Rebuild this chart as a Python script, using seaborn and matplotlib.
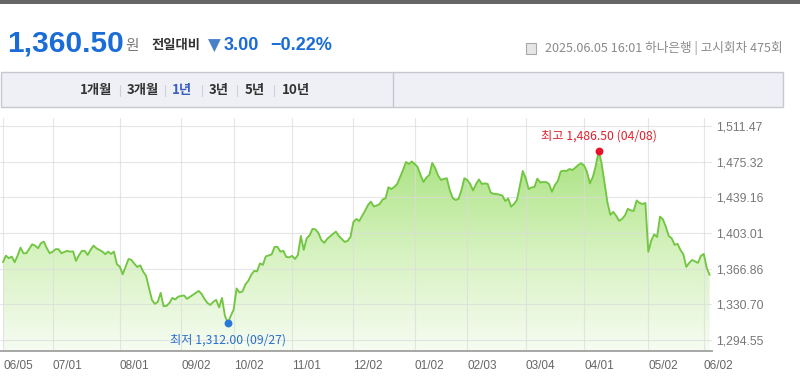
import numpy as np
import pandas as pd
import matplotlib
matplotlib.use("Agg")
import matplotlib.pyplot as plt
import seaborn as sns
from matplotlib.patches import Rectangle
from matplotlib.colors import LinearSegmentedColormap

# ---------------- data ----------------
start_date = "2024-06-05"
end_date = "2025-06-05"
holidays = ["2024-06-06", "2024-08-15", "2024-09-16", "2024-09-17", "2024-09-18",
            "2024-10-01", "2024-10-03", "2024-10-09", "2024-12-25", "2025-01-01",
            "2025-01-27", "2025-01-28", "2025-01-29", "2025-01-30", "2025-03-03",
            "2025-05-01", "2025-05-05", "2025-05-06", "2025-06-03"]

rates = [
    1373.4, 1380.1, 1377.5, 1379.1, 1373.4, 1380.1, 1388.2, 1382.5, 1382.5, 1387.0,
    1391.6, 1390.2, 1387.6, 1392.7, 1394.3, 1387.6, 1382.5, 1384.0, 1386.6, 1386.6,
    1382.5, 1383.8, 1384.9, 1384.1, 1384.4, 1374.7, 1380.5, 1384.9, 1384.9, 1380.8,
    1386.0, 1390.2, 1387.5, 1385.9, 1384.3, 1381.5, 1384.1, 1381.8, 1384.1, 1371.4,
    1368.9, 1361.2, 1368.9, 1376.7, 1375.7, 1371.7, 1368.6, 1370.2, 1363.9, 1359.5,
    1347.4, 1335.2, 1331.1, 1333.2, 1342.3, 1328.8, 1329.2, 1332.1, 1337.2, 1335.7,
    1338.5, 1339.2, 1339.7, 1336.2, 1338.2, 1340.2, 1342.3, 1344.3, 1341.3, 1336.2,
    1332.1, 1330.1, 1333.2, 1335.2, 1327.6, 1337.2, 1319.0, 1312.0, 1319.0, 1325.5,
    1346.8, 1342.7, 1343.7, 1350.8, 1354.5, 1360.5, 1364.6, 1364.1, 1372.2, 1370.7,
    1379.3, 1380.3, 1381.3, 1388.9, 1388.9, 1384.1, 1384.9, 1378.8, 1378.3, 1379.8,
    1376.7, 1380.8, 1400.0, 1385.9, 1397.7, 1400.6, 1407.2, 1406.7, 1403.1, 1396.0,
    1393.0, 1397.0, 1399.6, 1402.1, 1404.4, 1400.0, 1397.0, 1394.0, 1395.0, 1399.0,
    1414.2, 1417.2, 1415.2, 1420.3, 1425.6, 1431.4, 1434.8, 1429.9, 1430.9, 1432.4,
    1437.0, 1438.2, 1449.4, 1447.6, 1449.7, 1452.7, 1459.8, 1466.9, 1475.0, 1473.0,
    1475.5, 1473.0, 1469.9, 1461.8, 1454.7, 1459.3, 1461.8, 1474.0, 1468.9, 1461.3,
    1456.8, 1457.8, 1458.5, 1446.6, 1438.5, 1436.5, 1437.5, 1446.6, 1458.5, 1456.8,
    1452.7, 1446.1, 1452.7, 1457.3, 1452.7, 1453.3, 1452.7, 1444.1, 1442.7, 1442.5,
    1442.0, 1441.0, 1435.4, 1438.0, 1429.7, 1432.4, 1436.5, 1450.7, 1465.9, 1458.8,
    1447.6, 1449.2, 1449.7, 1458.1, 1454.2, 1454.7, 1454.7, 1452.7, 1444.8, 1451.6,
    1455.7, 1465.4, 1466.2, 1465.9, 1467.9, 1466.9, 1469.2, 1472.0, 1473.7, 1471.5,
    1464.9, 1453.3, 1459.8, 1470.9, 1486.5, 1473.7, 1453.7, 1434.0, 1421.4, 1424.4,
    1420.4, 1415.3, 1417.3, 1420.9, 1427.5, 1425.9, 1425.4, 1436.0, 1433.5, 1432.4,
    1433.5, 1383.9, 1395.3, 1401.6, 1399.0, 1419.6, 1416.8, 1409.4, 1400.0, 1397.7,
    1391.0, 1392.0, 1385.9, 1381.3, 1368.7, 1372.7, 1375.7, 1374.2, 1372.7, 1379.8,
    1381.8, 1367.7, 1360.5,
]

tick_dates = ["2024-06-05", "2024-07-01", "2024-08-01", "2024-09-02", "2024-10-02",
              "2024-11-01", "2024-12-02", "2025-01-02", "2025-02-03", "2025-03-04",
              "2025-04-01", "2025-05-02", "2025-06-02"]
tick_labels = ["06/05", "07/01", "08/01", "09/02", "10/02", "11/01", "12/02",
               "01/02", "02/03", "03/04", "04/01", "05/02", "06/02"]
y_ticks = [1294.55, 1330.70, 1366.86, 1403.01, 1439.16, 1475.32, 1511.47]

high_label = "최고 1,486.50 (04/08)"
low_label = "최저 1,312.00 (09/27)"
price_text = "1,360.50"
change_abs = "3.00"
change_pct = "−0.22%"
info_text = "2025.06.05 16:01 하나은행 | 고시회차 475회"
tabs = ["1개월", "3개월", "1년", "3년", "5년", "10년"]

# ---------------- build frame ----------------
days = pd.bdate_range(start_date, end_date)
days = days[~days.isin(pd.to_datetime(holidays))]
n = min(len(days), len(rates))
df = pd.DataFrame({"date": days[:n], "rate": rates[:n]})
df["pos"] = np.arange(n)
pos_of = {d: i for i, d in enumerate(df["date"])}
tick_pos = [pos_of[pd.Timestamp(d)] for d in tick_dates]

# ---------------- style ----------------
sns.set_theme(style="white")
KR = ["Noto Sans CJK KR", "DejaVu Sans"]
NUM = ["Liberation Sans", "DejaVu Sans"]
plt.rcParams["font.family"] = KR

W, H = 800, 376
fig = plt.figure(figsize=(W / 100, H / 100), dpi=100)
fig.patch.set_facecolor("white")


def T(x, y, s, **kw):
    kw.setdefault("va", "center")
    return fig.text(x / W, 1 - y / H, s, **kw)


# top dark bar
fig.patches.append(Rectangle((0, 1 - 3.5 / H), 1, 3.5 / H, transform=fig.transFigure,
                             facecolor="#666666", edgecolor="none"))

# header
T(7, 43, price_text, fontsize=21.5, fontweight="bold", color="#1a6cd6", family=NUM)
T(125, 46, "원", fontsize=10.5, color="#777777", family=KR)
T(151, 45, "전일대비", fontsize=9.6, fontweight="bold", color="#333333", family=KR)
T(208, 46, "▼", fontsize=12, color="#4a80c8", family=["DejaVu Sans"])
T(224, 46, change_abs, fontsize=13, fontweight="bold", color="#1a6cd6", family=NUM)
T(270, 46, change_pct, fontsize=13, fontweight="bold", color="#1a6cd6", family=NUM)

# info icon and text
fig.patches.append(Rectangle((526 / W, 1 - 54 / H), 10 / W, 11 / H, transform=fig.transFigure,
                             facecolor="#e6e6e6", edgecolor="#a9a9a9", linewidth=0.8))
T(783, 48, info_text, fontsize=9.1, color="#8a8a8a", family=KR, ha="right")

# tab bar
fig.patches.append(Rectangle((0.5 / W, 1 - 107 / H), 782.5 / W, 35 / H, transform=fig.transFigure,
                             facecolor="#eff0f5", edgecolor="#c6c7d0", linewidth=1.0))
fig.lines.append(plt.Line2D([393 / W, 393 / W], [1 - 72 / H, 1 - 107 / H],
                            transform=fig.transFigure, color="#c6c7d0", linewidth=1.0))
tab_x = [80, 127, 172, 209, 245, 282]
sep_x = [120, 165, 202, 237, 274]
for tx, lab in zip(tab_x, tabs):
    T(tx, 90, lab, fontsize=9.6, fontweight="bold",
      color="#3b5fbf" if lab == "1년" else "#333333", family=KR)
for sx in sep_x:
    fig.lines.append(plt.Line2D([sx / W, sx / W], [1 - 85 / H, 1 - 96 / H],
                                transform=fig.transFigure, color="#cfd0d8", linewidth=0.8))

# ---------------- chart ----------------
ax_left, ax_right, ax_top, ax_bot = 0, 712, 118, 351
ax = fig.add_axes([ax_left / W, 1 - ax_bot / H, (ax_right - ax_left) / W, (ax_bot - ax_top) / H])
ax.set_facecolor("white")

px_per_day = 2.92
x0 = -3 / px_per_day
x1 = x0 + (ax_right - ax_left) / px_per_day
unit = 36.153 / 35.67  # value per pixel
y_lo = y_ticks[0] - (ax_bot - 340) * unit
y_hi = y_ticks[-1] + (126 - ax_top) * unit

# gradient fill under line
vmax = df["rate"].max()
grad = np.linspace(0, 1, 256).reshape(-1, 1)
cmap = LinearSegmentedColormap.from_list("g", ["#f6fcf2", "#d6f2bf", "#a9e280"])
im = ax.imshow(grad, extent=[df["pos"].iloc[0], df["pos"].iloc[-1], y_lo, vmax],
               origin="lower", aspect="auto", cmap=cmap, zorder=1)
poly = ax.fill_between(df["pos"], df["rate"], y_lo, facecolor="none", edgecolor="none")
im.set_clip_path(poly.get_paths()[0], transform=ax.transData)

sns.lineplot(data=df, x="pos", y="rate", ax=ax, color="#72c641", linewidth=1.35,
             estimator=None, zorder=4)

# grid
for yt in y_ticks:
    ax.axhline(yt, color="#dcdcdc", linewidth=0.8, alpha=0.7, zorder=2)
for xt in tick_pos:
    ax.axvline(xt, color="#dcdcdc", linewidth=0.8, alpha=0.7, zorder=2)

# extremes
imax = int(df["rate"].idxmax())
imin = int(df["rate"].idxmin())
ax.scatter([df["pos"][imax]], [df["rate"][imax]], s=32, color="#e8102a", zorder=5, linewidths=0)
ax.scatter([df["pos"][imin]], [df["rate"][imin]], s=32, color="#2a78d8", zorder=5, linewidths=0)
ax.annotate(high_label, (df["pos"][imax], df["rate"][imax]), xytext=(0, 6),
            textcoords="offset points", ha="center", va="bottom", fontsize=8.8,
            color="#e0202e", family=KR, zorder=6)
ax.annotate(low_label, (df["pos"][imin], df["rate"][imin]), xytext=(0, -8),
            textcoords="offset points", ha="center", va="top", fontsize=8.8,
            color="#2a6fd0", family=KR, zorder=6)

ax.set_xlim(x0, x1)
ax.set_ylim(y_lo, y_hi)
ax.set_xticks(tick_pos)
ax.set_xticklabels(tick_labels, ha="left", family=NUM, fontsize=8.5, color="#666666")
ax.set_yticks(y_ticks)
ax.set_yticklabels([f"{v:,.2f}" for v in y_ticks], family=NUM, fontsize=8.8, color="#777777")
ax.yaxis.tick_right()
ax.tick_params(axis="y", length=0, pad=3)
ax.tick_params(axis="x", length=3.5, width=0.8, color="#999999", pad=3, direction="out")
ax.set_xlabel("")
ax.set_ylabel("")
for side in ["top", "left", "right"]:
    ax.spines[side].set_visible(False)
ax.spines["bottom"].set_color("#a0a0a0")
ax.spines["bottom"].set_linewidth(1.3)
ax.spines["bottom"].set_zorder(6)

fig.savefig("out.png", dpi=100, facecolor="white")
